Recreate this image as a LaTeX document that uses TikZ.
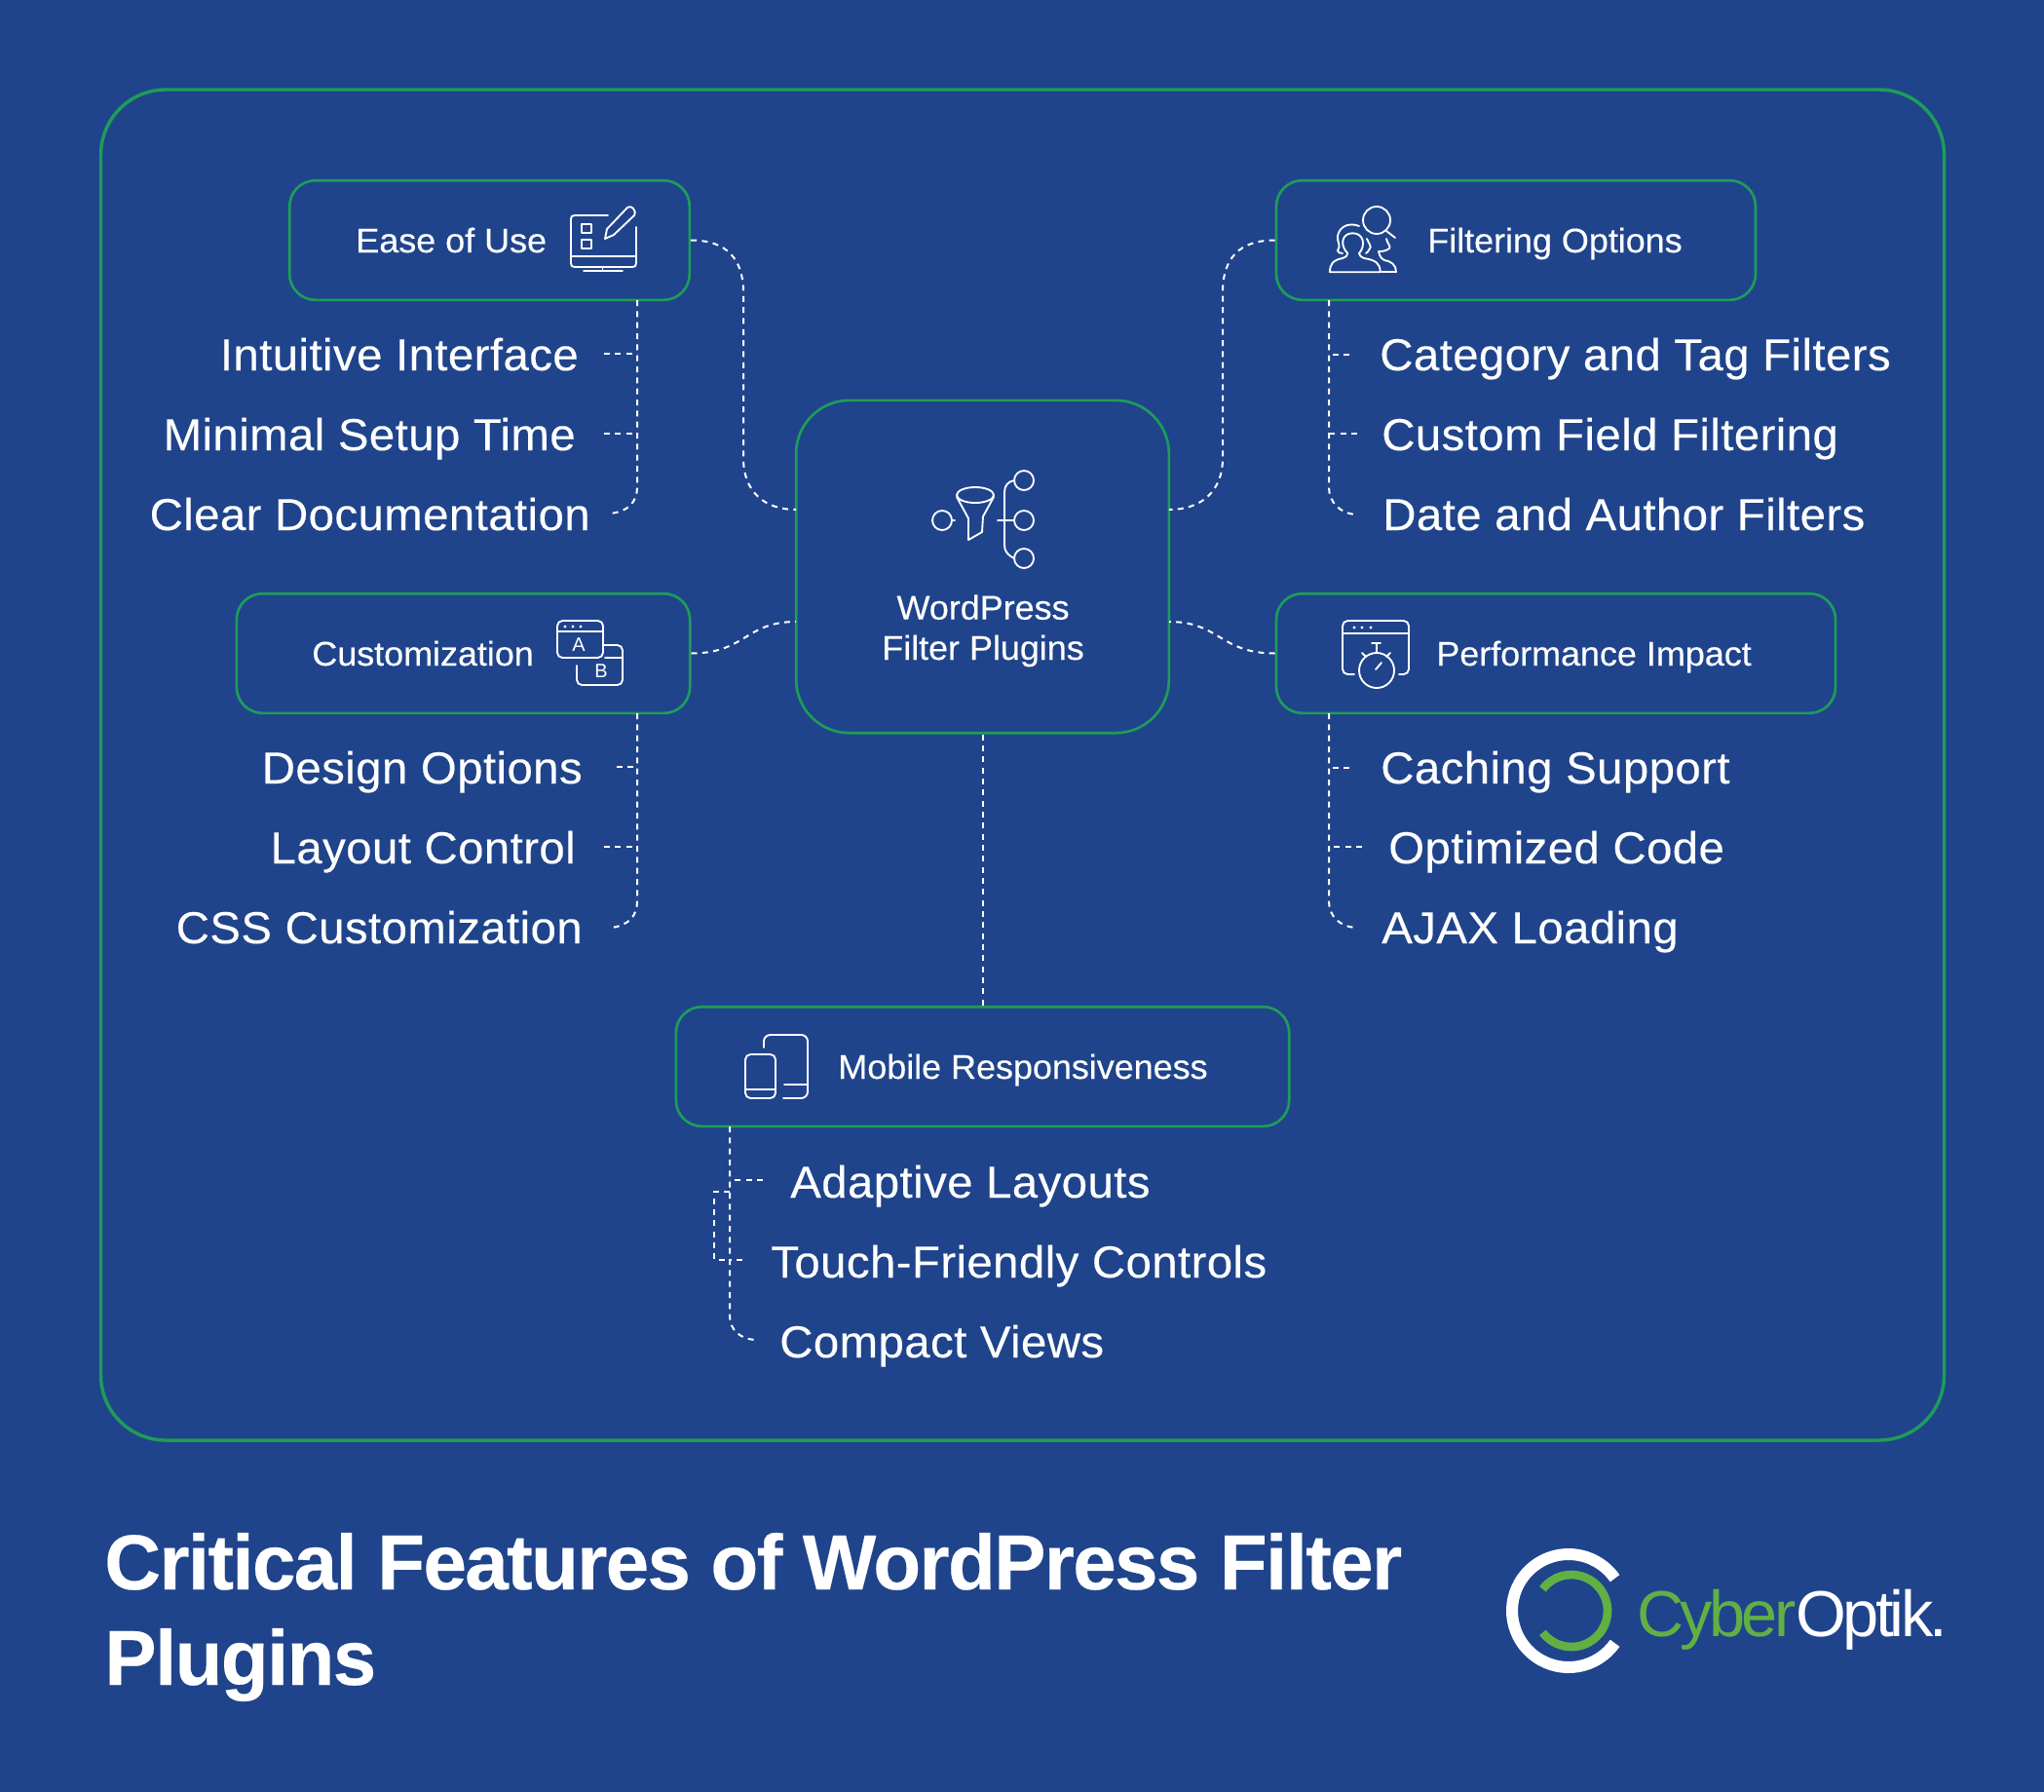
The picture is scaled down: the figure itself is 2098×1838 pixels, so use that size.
\documentclass[tikz,border=0pt]{standalone}
\usepackage{fontspec}
\setmainfont{Liberation Sans}
\newfontfamily\itemfont[FakeStretch=1.03,LetterSpace=0.9,FakeBold=0.25]{Liberation Sans}
\newfontfamily\boxfont[FakeStretch=1.03,LetterSpace=-0.2,FakeBold=0.25]{Liberation Sans}
\newfontfamily\titlefont[LetterSpace=-2.1,FakeBold=0.3]{Liberation Sans}
\newfontfamily\logofont[LetterSpace=-5.5]{Liberation Sans}
\definecolor{pagebg}{HTML}{1F448B}
\definecolor{framegreen}{HTML}{1E9C5A}
\definecolor{logogreen}{HTML}{62B044}
\tikzset{
    card/.style={draw=framegreen,line width=2pt,rounded corners=20pt,inner sep=0pt},
    link/.style={draw=white,line width=1.5pt,dash pattern={on 4.5pt off 4pt}},
    iconline/.style={draw=white,line width=1.4pt,line join=round,line cap=round},
    item/.style={text=white,inner sep=0pt,font=\itemfont\fontsize{34.5}{41}\selectfont},
    boxtext/.style={text=white,inner sep=0pt,font=\boxfont\fontsize{26.25}{31}\selectfont},
}
\begin{document}
\begin{tikzpicture}[x=0.75pt,y=0.75pt,yscale=-1,xscale=1]
    \useasboundingbox (0,0) rectangle (2098,1838);
    \fill [pagebg] (-4,-4) rectangle (2102,1842);

    %Shape: Rounded Rect
    \node (frame) [card,line width=2.6pt,rounded corners=50pt,minimum width=1419pt,minimum height=1039.5pt] at (1049.5,785) {};
    \node (centerbox) [card,rounded corners=41pt,minimum width=287pt,minimum height=256pt] at (1008.5,581.5) {};
    \node (easebox) [card,minimum width=308pt,minimum height=92pt] at (502.5,246.5) {};
    \node (filterbox) [card,minimum width=369pt,minimum height=92pt] at (1556,246.5) {};
    \node (custombox) [card,minimum width=349pt,minimum height=92pt] at (475.5,670.5) {};
    \node (perfbox) [card,minimum width=430.5pt,minimum height=92pt] at (1597,670.5) {};
    \node (mobilebox) [card,minimum width=472pt,minimum height=92pt] at (1008.5,1094.5) {};

    % Text Node
    \node (centertext) [boxtext,align=center,anchor=base] at (1009,677) {WordPress\\Filter Plugins};
    \node (easetext) [boxtext,anchor=base west] at (365,259) {Ease of Use};
    \node (filtertext) [boxtext,anchor=base west] at (1465,259) {Filtering Options};
    \node (customtext) [boxtext,anchor=base west] at (320,683) {Customization};
    \node (perftext) [boxtext,anchor=base west] at (1474,683) {Performance Impact};
    \node (mobiletext) [boxtext,anchor=base west] at (860,1107) {Mobile Responsiveness};

    % Text Node
    \node (intuitive) [item,anchor=base east] at (594,380) {Intuitive Interface};
    \node (minimal) [item,anchor=base east] at (591,462) {Minimal Setup Time};
    \node (clear) [item,anchor=base east] at (606,544) {Clear Documentation};
    \node (category) [item,anchor=base west] at (1416,380) {Category and Tag Filters};
    \node (customfield) [item,anchor=base west] at (1418,462) {Custom Field Filtering};
    \node (dateauthor) [item,anchor=base west] at (1419,544) {Date and Author Filters};
    \node (design) [item,anchor=base east] at (598,804) {Design Options};
    \node (layout) [item,anchor=base east] at (591,886) {Layout Control};
    \node (css) [item,anchor=base east] at (598,968) {CSS Customization};
    \node (caching) [item,anchor=base west] at (1417,804) {Caching Support};
    \node (optimized) [item,anchor=base west] at (1425,886) {Optimized Code};
    \node (ajax) [item,anchor=base west] at (1418,968) {AJAX Loading};
    \node (adaptive) [item,anchor=base west] at (811,1229) {Adaptive Layouts};
    \node (touch) [item,anchor=base west] at (791,1311) {Touch-Friendly Controls};
    \node (compact) [item,anchor=base west] at (800,1393) {Compact Views};

    % Text Node
    \node (title) [text=white,inner sep=0pt,align=left,anchor=base west,font=\titlefont\bfseries\fontsize{60}{73.5}\selectfont] at (107,1729) {Critical Features of WordPress Filter\\Plugins};
    \node (logotext) [inner sep=0pt,anchor=base west,font=\logofont\fontsize{50}{60}\selectfont] at (1680,1679) {\textcolor{logogreen}{Cyber}\textcolor{white}{Optik.}};

    %Coordinates for the free ends
    \coordinate (centerwa) at (817,523);
    \coordinate (centerwb) at (817,638);
    \coordinate (centerea) at (1200,523);
    \coordinate (centereb) at (1200,638);
    \coordinate (easetrunk) at (654,308);
    \coordinate (filtertrunk) at (1364,308);
    \coordinate (customtrunk) at (654,732);
    \coordinate (perftrunk) at (1364,732);
    \coordinate (mobiletrunk) at (749,1156);
    \coordinate (intuitiveend) at (620,363);
    \coordinate (minimalend) at (620,445);
    \coordinate (clearend) at (626,527);
    \coordinate (categoryend) at (1385,364);
    \coordinate (customfieldend) at (1393,445);
    \coordinate (dateauthorend) at (1392,528);
    \coordinate (designend) at (633,787);
    \coordinate (layoutend) at (620,869);
    \coordinate (cssend) at (627,952);
    \coordinate (cachingend) at (1385,788);
    \coordinate (optimizedend) at (1398,869);
    \coordinate (ajaxend) at (1392,952);
    \coordinate (adaptiveend) at (783,1211);
    \coordinate (touchend) at (762,1293);
    \coordinate (compactend) at (775,1375);
    \coordinate (bracketa) at (749,1223);
    \coordinate (bracketb) at (733,1223);
    \coordinate (bracketc) at (733,1293);
    \coordinate (bracketd) at (747,1293);

    %Curve Lines
    \draw [link] (easebox.east) .. controls (745,246.5) and (763,265) .. (763,300) -- (763,470) .. controls (763,505) and (785,523) .. (centerwa);
    \draw [link] (filterbox.west) .. controls (1272,246.5) and (1255,265) .. (1255,300) -- (1255,470) .. controls (1255,505) and (1232,523) .. (centerea);
    \draw [link] (custombox.east) .. controls (765,670.5) and (765,638) .. (centerwb);
    \draw [link] (perfbox.west) .. controls (1252,670.5) and (1252,638) .. (centereb);
    %Straight Lines
    \draw [link] (centerbox.south) -- (mobilebox.north);

    %Straight Lines
    \draw [link] (easetrunk) -- (654,500) .. controls (654,515) and (645,525) .. (clearend);
    \draw [link] (intuitiveend) -- (easetrunk |- intuitiveend);
    \draw [link] (minimalend) -- (easetrunk |- minimalend);
    \draw [link] (filtertrunk) -- (1364,500) .. controls (1364,515) and (1375,527) .. (dateauthorend);
    \draw [link] (categoryend) -- (filtertrunk |- categoryend);
    \draw [link] (customfieldend) -- (filtertrunk |- customfieldend);
    \draw [link] (customtrunk) -- (654,925) .. controls (654,940) and (645,950) .. (cssend);
    \draw [link] (designend) -- (customtrunk |- designend);
    \draw [link] (layoutend) -- (customtrunk |- layoutend);
    \draw [link] (perftrunk) -- (1364,925) .. controls (1364,940) and (1375,951) .. (ajaxend);
    \draw [link] (cachingend) -- (perftrunk |- cachingend);
    \draw [link] (optimizedend) -- (perftrunk |- optimizedend);
    \draw [link] (mobiletrunk) -- (749,1350) .. controls (749,1365) and (760,1374) .. (compactend);
    \draw [link] (adaptiveend) -- (mobiletrunk |- adaptiveend);
    \draw [link] (touchend) -- (mobiletrunk |- touchend);
    \draw [link] (bracketa) -- (bracketb) -- (bracketc) -- (bracketd);

    %Shape: center icon
    \draw [iconline] (967,534) circle (10);
    \draw [iconline] (977,534) -- (980,534);
    \draw [iconline] (1001,508) ellipse (19 and 8);
    \draw [iconline] (982,510) -- (994,532) -- (994,554) -- (1008,546) -- (1009,530) -- (1020,510);
    \draw [iconline] (1051,493) circle (10);
    \draw [iconline] (1051,534) circle (10);
    \draw [iconline] (1051,573) circle (10);
    \draw [iconline] (1024,534) -- (1041,534);
    \draw [iconline] (1041,493) .. controls (1035,494) and (1031,498) .. (1031,505) -- (1031,560) .. controls (1031,566) and (1035,570) .. (1041,573);

    %Shape: ease icon
    \draw [iconline] (624,221) -- (590,221) .. controls (587,221) and (586,222) .. (586,225) -- (586,270) .. controls (586,273) and (587,274) .. (590,274) -- (649,274) .. controls (652,274) and (653,273) .. (653,270) -- (653,233);
    \draw [iconline] (586,263) -- (653,263);
    \draw [iconline] (618.5,274) -- (618.5,278);
    \draw [iconline] (599,278) -- (639,278);
    \draw [iconline] (597,230) rectangle (607,239);
    \draw [iconline] (597,246) rectangle (607,255);
    \draw [iconline] (621,245) -- (623,235) -- (644,213) .. controls (647,210) and (654,215) .. (651,221) -- (630,241) -- cycle;

    %Shape: filter icon
    \draw [iconline] (1413,226) circle (14);
    \draw [iconline] (1423,237) -- (1432,244);
    \draw [iconline] (1365,279.3) -- (1416.7,279.3) .. controls (1416.7,270) and (1412,267) .. (1400,265) .. controls (1397,264) and (1395,262) .. (1395,260) .. controls (1402,252) and (1400,239.3) .. (1388.3,239.3) .. controls (1377,239.3) and (1375,252) .. (1383.3,260) .. controls (1383,263) and (1381,264) .. (1378,265) .. controls (1368,267) and (1365,271) .. (1365,279.3) -- cycle;
    \draw [iconline] (1378,260) .. controls (1375,260) and (1373,259) .. (1373,257) .. controls (1377,252) and (1372,248) .. (1373,242) .. controls (1375,232) and (1385,228) .. (1395,232);
    \draw [iconline] (1403,245) .. controls (1405,250) and (1408,253) .. (1406,255) .. controls (1405,258) and (1403,259) .. (1402,260);
    \draw [iconline] (1423,245) .. controls (1424,250) and (1428,253) .. (1426,255) .. controls (1422,258) and (1418,258) .. (1415,258) .. controls (1416,264) and (1419,266) .. (1421,267) .. controls (1428,268) and (1433,272) .. (1433,279) -- (1418,279);

    %Shape: custom icon
    \draw [iconline,rounded corners=4pt] (572,637) rectangle (619,675);
    \draw [iconline] (572,648) -- (619,648);
    \fill [white] (580,643) circle (1.6) (588,643) circle (1.6) (596,643) circle (1.6);
    \draw [iconline,rounded corners=4pt] (620,662) -- (639,662) -- (639,703) -- (592,703) -- (592,683);
    \draw [iconline] (621,675) -- (639,675);
    \node (lettera) [text=white,inner sep=0pt,font=\fontsize{15}{18}\selectfont] at (594,662) {A};
    \node (letterb) [text=white,inner sep=0pt,font=\fontsize{15}{18}\selectfont] at (617,689) {B};

    %Shape: performance icon
    \draw [iconline,rounded corners=4pt] (1390,692) -- (1378,692) -- (1378,637) -- (1446,637) -- (1446,692) -- (1436,692);
    \draw [iconline] (1378,650) -- (1446,650);
    \fill [white] (1390,644) circle (1.6) (1398,644) circle (1.6) (1407,644) circle (1.6);
    \draw [iconline] (1413,688) circle (18);
    \draw [iconline] (1413,660) -- (1413,670);
    \draw [iconline] (1408,660) -- (1417,660);
    \draw [iconline] (1398,670) -- (1402,674);
    \draw [iconline] (1427,670) -- (1423,674);
    \draw [iconline] (1412,687) -- (1418,680);

    %Shape: mobile icon
    \draw [iconline,rounded corners=4pt] (765,1082) rectangle (796,1127);
    \draw [iconline] (765,1118) -- (796,1118);
    \draw [iconline,rounded corners=5pt] (784,1075) -- (784,1062) -- (829,1062) -- (829,1127) -- (804,1127);
    \draw [iconline] (805,1113) -- (829,1113);

    %Shape: logo
    \coordinate (logocenter) at (1610,1653);
    \coordinate (logoinner) at (1613,1653);
    \draw [white,line width=9pt] (logocenter) ++(35:58) arc (35:325:58);
    \draw [logogreen,line width=6.5pt] (logoinner) ++(143:37) arc (143:-143:37);
\end{tikzpicture}
\end{document}
